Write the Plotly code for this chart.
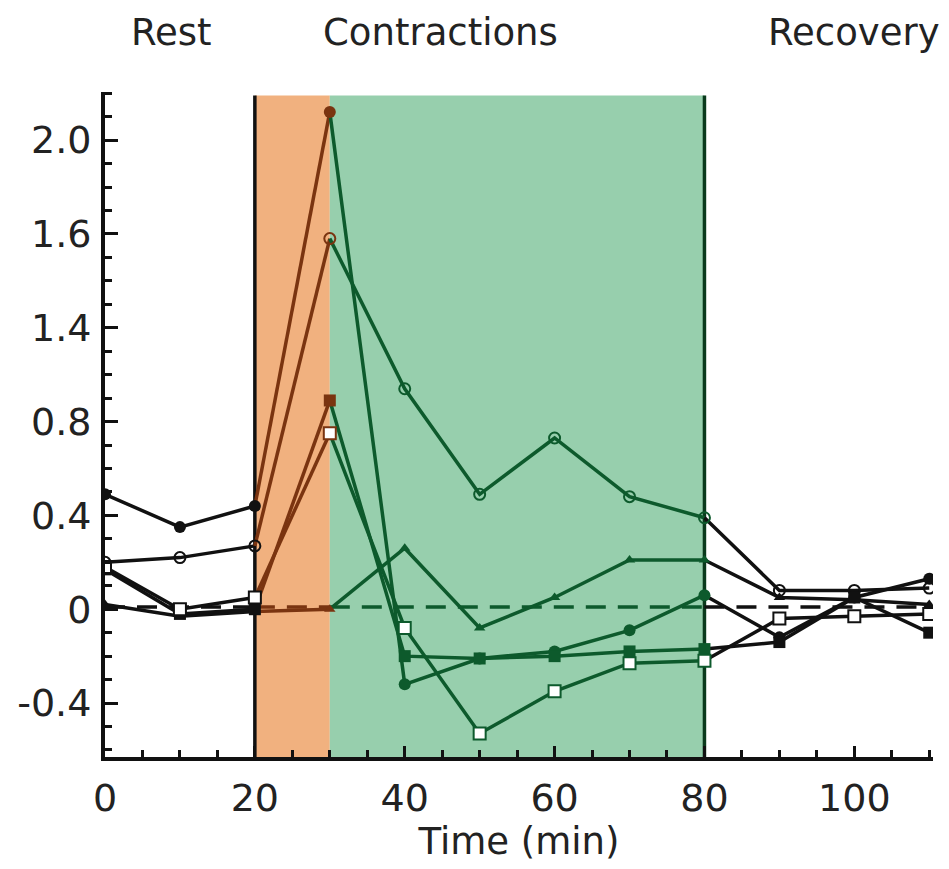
import plotly.graph_objects as go

# Sampling times (min)
time_min = [0, 10, 20, 30, 40, 50, 60, 70, 80, 90, 100, 110]

# Series values at each sampling time
filled_circle = [0.49, 0.35, 0.44, 2.12, -0.32, -0.21, -0.18, -0.09, 0.06, -0.12, 0.05, 0.13]
open_circle = [0.20, 0.22, 0.27, 1.58, 0.94, 0.49, 0.73, 0.48, 0.39, 0.08, 0.08, 0.09]
filled_triangle = [0.02, -0.03, -0.01, 0.0, 0.26, -0.08, 0.05, 0.21, 0.21, 0.05, 0.04, 0.02]
filled_square = [0.17, -0.02, 0.0, 0.89, -0.20, -0.21, -0.20, -0.18, -0.17, -0.14, 0.05, -0.10]
open_square = [0.18, 0.0, 0.05, 0.75, -0.08, -0.53, -0.35, -0.23, -0.22, -0.04, -0.03, -0.02]

baseline = 0.01

# Phase boundaries (min)
warmup_start, contraction_start, contraction_end = 20, 30, 80
x_range = [0, 110.5]
y_range = [-0.63, 2.205]

y_tickvals = [-0.4, 0, 0.4, 0.8, 1.2, 1.6, 2.0]
y_ticktext = ["-0.4", "0", "0.4", "0.8", "1.4", "1.6", "2.0"]
x_tickvals = [0, 20, 40, 60, 80, 100]

phase_labels = ["Rest", "Contractions", "Recovery"]
phase_label_x = [8.9, 44.8, 99.9]

BLACK = "#111111"
BROWN = "#7a3410"
GREEN = "#0d5a2c"
ORANGE_FILL = "#f1b17f"
GREEN_FILL = "#97cfad"

series = [
    (filled_circle, "circle", False, 12),
    (open_circle, "circle-open", True, 11),
    (filled_triangle, "triangle-up", False, 10),
    (filled_square, "square", False, 12),
    (open_square, "square", True, 12),
]

# Segments of each curve: (first index, last index, colour)
segments = [(0, 2, BLACK), (2, 3, BROWN), (3, 8, GREEN), (8, 11, BLACK)]
# Markers coloured by phase
marker_groups = [(0, 2, BLACK), (3, 3, BROWN), (4, 8, GREEN), (9, 11, BLACK)]

fig = go.Figure()

# dashed baseline, coloured by phase
for x0, x1, col in [(0, warmup_start, BLACK), (warmup_start, contraction_start, BROWN),
                    (contraction_start, contraction_end, GREEN), (contraction_end, 110, BLACK)]:
    fig.add_trace(go.Scatter(x=[x0, x1], y=[baseline, baseline], mode="lines",
                             line=dict(color=col, width=3.5, dash="20px,12px"),
                             showlegend=False, hoverinfo="skip"))

for vals, sym, hollow, size in series:
    for i0, i1, col in segments:
        fig.add_trace(go.Scatter(x=time_min[i0:i1 + 1], y=vals[i0:i1 + 1], mode="lines",
                                 line=dict(color=col, width=3.5), showlegend=False))
    for i0, i1, col in marker_groups:
        if sym == "circle-open":
            marker = dict(symbol="circle-open", size=size, color=col, line=dict(width=2, color=col))
        elif hollow:
            marker = dict(symbol=sym, size=size, color="white", line=dict(width=2, color=col))
        else:
            marker = dict(symbol=sym, size=size, color=col, line=dict(width=0))
        fig.add_trace(go.Scatter(x=time_min[i0:i1 + 1], y=vals[i0:i1 + 1], mode="markers",
                                 marker=marker, showlegend=False))

# phase shading and boundaries
fig.add_shape(type="rect", x0=warmup_start, x1=contraction_start, y0=y_range[0], y1=2.19,
              fillcolor=ORANGE_FILL, line=dict(width=0), layer="below")
fig.add_shape(type="rect", x0=contraction_start, x1=contraction_end, y0=y_range[0], y1=2.19,
              fillcolor=GREEN_FILL, line=dict(width=0), layer="below")
fig.add_shape(type="line", x0=warmup_start, x1=warmup_start, y0=y_range[0], y1=2.19,
              line=dict(color=BLACK, width=3.5), layer="below")
fig.add_shape(type="line", x0=contraction_end, x1=contraction_end, y0=y_range[0], y1=2.19,
              line=dict(color="#0a3a1c", width=3.5), layer="below")

FONT = "DejaVu Sans, sans-serif"
for txt, xv in zip(phase_labels, phase_label_x):
    fig.add_annotation(x=xv, xref="x", y=1.09, yref="paper", text=txt, showarrow=False,
                       font=dict(family=FONT, size=37, color="#222222"),
                       xanchor="center", yanchor="middle")

fig.update_layout(
    width=949, height=869,
    margin=dict(l=105, r=16, t=92, b=112),
    paper_bgcolor="white", plot_bgcolor="white",
    font=dict(family=FONT, size=37, color="#222222"),
    showlegend=False,
)
fig.update_xaxes(
    range=x_range, showgrid=False, zeroline=False,
    showline=True, linecolor=BLACK, linewidth=4,
    tickvals=x_tickvals, ticks="inside", ticklen=11, tickwidth=2.5, tickcolor=BLACK,
    minor=dict(tick0=0, dtick=5, ticks="inside", ticklen=7, tickwidth=2.5, tickcolor=BLACK),
    tickfont=dict(size=38), ticklabelstandoff=4,
    title=dict(text="Time (min)", font=dict(size=37), standoff=10),
)
fig.update_yaxes(
    range=y_range, showgrid=False, zeroline=False,
    showline=True, linecolor=BLACK, linewidth=4,
    tickvals=y_tickvals, ticktext=y_ticktext,
    ticks="inside", ticklen=13, tickwidth=2.5, tickcolor=BLACK,
    minor=dict(tick0=0, dtick=0.1, ticks="inside", ticklen=7, tickwidth=2.5, tickcolor=BLACK),
    tickfont=dict(size=38), ticklabelstandoff=2,
)

fig.write_html("out.html")
